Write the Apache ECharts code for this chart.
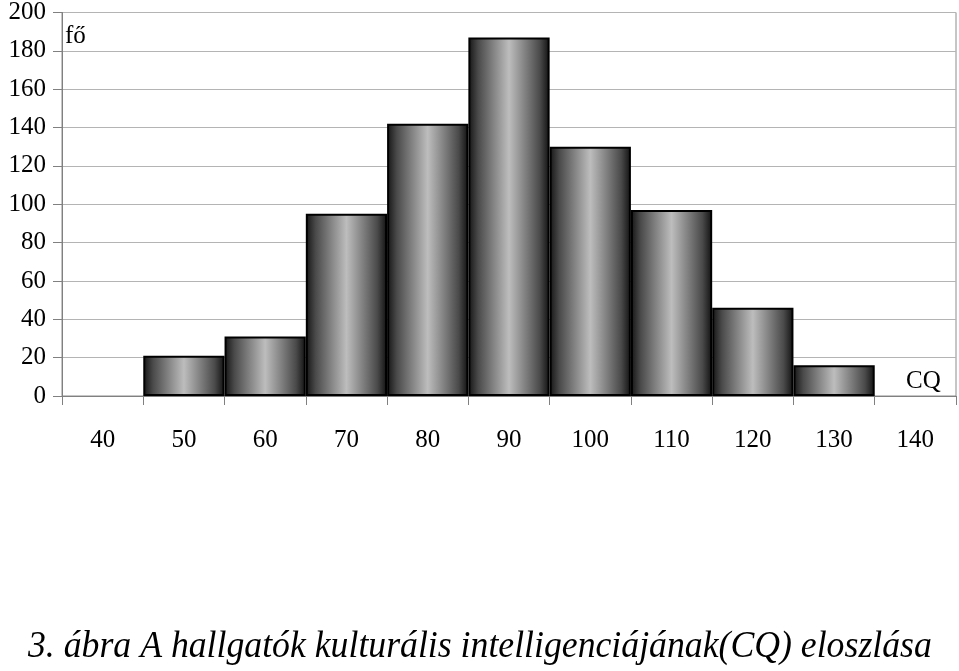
<!DOCTYPE html>
<html>
<head>
<meta charset="utf-8">
<script src="https://cdn.jsdelivr.net/npm/echarts@6/dist/echarts.min.js"></script>
<style>
html,body{margin:0;padding:0;background:#fff;}
#chart{width:959px;height:671px;}
</style>
</head>
<body>
<div id="chart"></div>
<script>
const categories = ['40','50','60','70','80','90','100','110','120','130','140'];
const counts = [0, 21, 31, 95, 142, 187, 130, 97, 46, 16, 0];
const yTicks = {min: 0, max: 200, interval: 20};
const yUnit = 'fő';
const xUnit = 'CQ';
const caption = '3. ábra A hallgatók kulturális intelligenciájának(CQ) eloszlása';

const chart = echarts.init(document.getElementById('chart'), null, {renderer: 'canvas'});
const serif = '"Liberation Serif", "Times New Roman", serif';
const barGradient = new echarts.graphic.LinearGradient(0, 0, 1, 0, [
  {offset: 0, color: '#141414'},
  {offset: 0.12, color: '#4a4a4a'},
  {offset: 0.5, color: '#bdbdbd'},
  {offset: 0.88, color: '#4a4a4a'},
  {offset: 1, color: '#101010'}
]);
const barData = counts.map(v => ({
  value: v,
  itemStyle: v === 0 ? {borderWidth: 0} : undefined
}));
chart.setOption({
  animation: false,
  backgroundColor: '#fff',
  grid: {left: 62, right: 3, top: 12, bottom: 275, show: true, borderColor: '#8c8c8c', borderWidth: 1},
  xAxis: {
    type: 'category',
    data: categories,
    boundaryGap: true,
    axisLine: {lineStyle: {color: '#808080', width: 1}},
    axisTick: {show: true, length: 9, lineStyle: {color: '#808080'}},
    axisLabel: {margin: 32, color: '#000', fontFamily: serif, fontSize: 25, interval: 0}
  },
  yAxis: {
    type: 'value',
    min: yTicks.min, max: yTicks.max, interval: yTicks.interval,
    axisLine: {show: true, lineStyle: {color: '#808080', width: 1}},
    axisTick: {show: true, length: 9, lineStyle: {color: '#808080'}},
    axisLabel: {margin: 16, color: '#000', fontFamily: serif, fontSize: 25},
    splitLine: {lineStyle: {color: '#b4b4b4', width: 1}}
  },
  series: [{
    type: 'bar',
    data: barData,
    barCategoryGap: '0%',
    itemStyle: {color: barGradient, borderColor: '#000', borderWidth: 2}
  }],
  graphic: [
    {type: 'text', left: 65, top: 24, style: {text: yUnit, font: '25px ' + serif, fill: '#000'}},
    {type: 'text', left: 906, top: 369, style: {text: xUnit, font: '25px ' + serif, fill: '#000'}},
    {type: 'text', x: 28, y: 628, scaleX: 0.94, style: {text: caption, font: 'italic 38px ' + serif, fill: '#000'}}
  ]
});
</script>
</body>
</html>
